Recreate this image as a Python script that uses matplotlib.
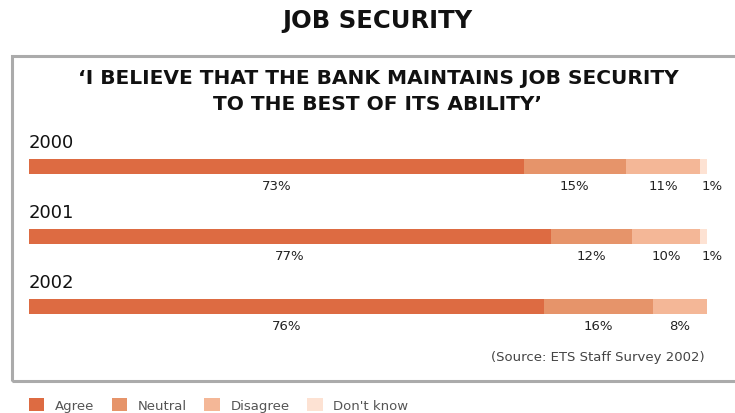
import matplotlib
matplotlib.use("Agg")
import matplotlib.pyplot as plt
from matplotlib.patches import Rectangle, Patch

years = ["2000", "2001", "2002"]
categories = ["Agree", "Neutral", "Disagree", "Don't know"]
agree = [73, 77, 76]
neutral = [15, 12, 16]
disagree = [11, 10, 8]
dont_know = [1, 1, 0]

colours = ["#DD6B42", "#E6946A", "#F4B797", "#FDE2D3"]

plt.rcParams['font.family'] = ['DejaVu Sans']

fig = plt.figure(figsize=(7.35, 4.14), dpi=100)
W, H = 735, 414

def fx(px):
    return px / W

def fy(py):
    return 1 - py / H

# grey frame (right side runs off the page)
fig.add_artist(Rectangle((fx(12), fy(382)), fx(740 - 12), (382 - 57) / H,
                         transform=fig.transFigure, fill=False,
                         edgecolor="#ABABAB", lw=2.2, clip_on=False))

fig.text(fx(377), fy(21), "JOB SECURITY", ha="center", va="center",
         fontsize=17.5, fontweight="bold", color="#111111")
fig.text(fx(378), fy(79), "\u2018I BELIEVE THAT THE BANK MAINTAINS JOB SECURITY",
         ha="center", va="center", fontsize=14.5, fontweight="bold", color="#111111")
fig.text(fx(378), fy(104), "TO THE BEST OF ITS ABILITY\u2019",
         ha="center", va="center", fontsize=14.5, fontweight="bold", color="#111111")

# axes: 100% = 678 px, one row = 70 px
ax = fig.add_axes([fx(29), 1 - 349.5 / H, 678 / W, 224 / H])
ax.set_xlim(0, 100)
ax.set_ylim(2.6, -0.6)
ax.axis("off")

series = [agree, neutral, disagree, dont_know]
rows = range(len(years))
left = [0] * len(years)
for vals, col, name in zip(series, colours, categories):
    ax.barh(list(rows), vals, left=left, height=0.215, color=col,
            edgecolor="none", label=name)
    for i in rows:
        v = vals[i]
        if v > 0:
            cx = left[i] + v / 2
            if v < 3:
                cx += 1.3
            ax.text(cx, i + 0.27, f"{v}%", ha="center", va="center",
                    fontsize=9.5, color="#222222")
    left = [l + v for l, v in zip(left, vals)]

for i, y in enumerate(years):
    ax.text(0, i - 0.35, y, ha="left", va="center", fontsize=13, color="#111111")

fig.text(fx(705), fy(357), "(Source: ETS Staff Survey 2002)", ha="right",
         va="center", fontsize=9.5, color="#444444")

handles = [Patch(facecolor=c, edgecolor="none") for c in colours]
fig.legend(handles, categories, loc="center left", bbox_to_anchor=(fx(22), fy(406)),
           ncol=4, frameon=False, fontsize=9.5, handlelength=1.2, handleheight=1.2,
           handletextpad=0.8, columnspacing=1.3, labelcolor="#555555", borderpad=0)

fig.savefig("out.png", dpi=100, facecolor="white")
